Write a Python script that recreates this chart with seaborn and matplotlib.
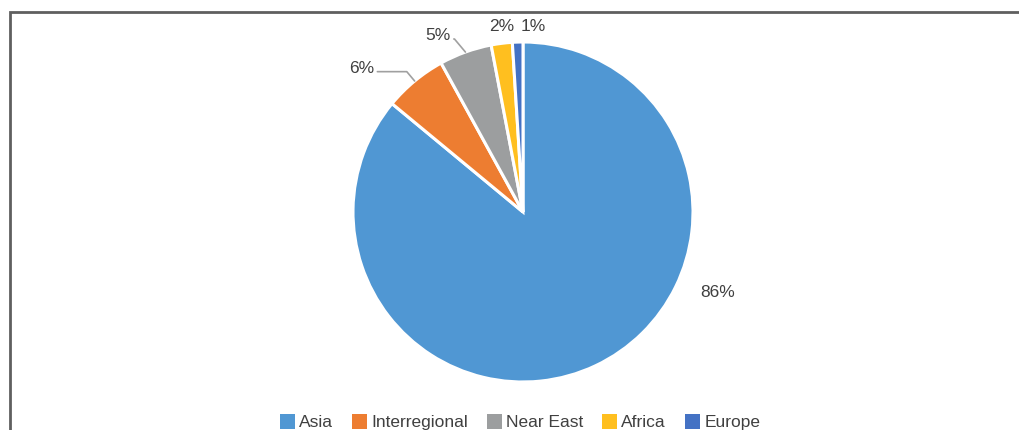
import numpy as np
import matplotlib
matplotlib.use("Agg")
import matplotlib.pyplot as plt
from matplotlib.patches import Rectangle
import seaborn as sns

# Share of projects by region (percent)
regions = ["Asia", "Interregional", "Near East", "Africa", "Europe"]
shares = [86, 6, 5, 2, 1]
colors = ["#5097D3", "#ED7D31", "#9C9E9F", "#FFBF1F", "#4472C4"]

# Label placement: (radius, angle in degrees) in pie units, plus leader line flag
label_pos = {
    "Asia": (1.24, -22.5, False),
    "Interregional": (1.27, 138.4, True),
    "Near East": (1.15, 115.8, True),
    "Africa": (1.10, 96.4, False),
    "Europe": (1.09, 86.9, False),
}

sns.set_theme(style="white")
plt.rcParams["font.family"] = ["Liberation Sans", "DejaVu Sans"]

W, H = 1020, 430
fig = plt.figure(figsize=(W / 100, H / 100), dpi=100)
fig.patch.set_facecolor("white")

# Chart border (only top and left edges fall inside the canvas)
fig.patches.append(Rectangle((10.5 / W, -0.2), 1.2, (H - 11.5) / H + 0.2,
                             transform=fig.transFigure, fill=False,
                             edgecolor="#5f5f5f", linewidth=2, zorder=0))

cx, cy, r = 523, 212, 170
ax = fig.add_axes([(cx - r) / W, (H - cy - r) / H, 2 * r / W, 2 * r / H])
ax.axis("off")

wedges, _ = ax.pie(shares, colors=colors, startangle=90, counterclock=False,
                   radius=1.0,
                   wedgeprops=dict(edgecolor="white", linewidth=2.2))
ax.set_xlim(-1, 1)
ax.set_ylim(-1, 1)
ax.set_aspect("equal")

text_color = "#404040"
fs = 12.5
for w, name, val in zip(wedges, regions, shares):
    rad, ang, leader = label_pos[name]
    tx, ty = rad * np.cos(np.radians(ang)), rad * np.sin(np.radians(ang))
    label = f"{val}%"
    if leader:
        mid = np.radians((w.theta1 + w.theta2) / 2)
        ex, ey = np.cos(mid), np.sin(mid)
        ax.annotate(label, xy=(ex, ey), xytext=(tx, ty), ha="center", va="center",
                    fontsize=fs, color=text_color, annotation_clip=False,
                    arrowprops=dict(arrowstyle="-", color="#a0a0a0", lw=1.2,
                                    shrinkA=0, shrinkB=0, relpos=(1.0, 0.3),
                                    connectionstyle="angle,angleA=0,angleB=130,rad=0"))
    else:
        ax.text(tx, ty, label, ha="center", va="center", fontsize=fs, color=text_color)

handles = [Rectangle((0, 0), 1, 1, facecolor=c, edgecolor="none") for c in colors]
fig.legend(handles, regions, loc="center", bbox_to_anchor=(520 / W, 8 / H),
           ncol=5, frameon=False, fontsize=fs, labelcolor=text_color,
           handlelength=0.85, handleheight=0.95, handletextpad=0.25,
           columnspacing=1.1, borderaxespad=0)

fig.savefig("out.png", dpi=100)
